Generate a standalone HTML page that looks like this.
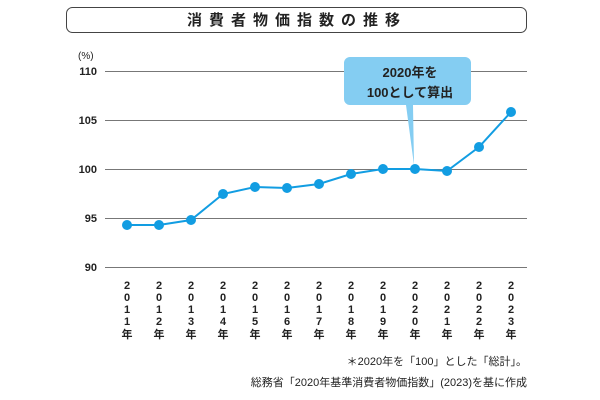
<!DOCTYPE html><html><head><meta charset="utf-8"><style>body{margin:0;background:#fff}svg{display:block}text{font-family:"Liberation Sans","Noto Sans CJK JP",sans-serif;fill:#222}</style></head><body>
<svg width="600" height="400" viewBox="0 0 600 400">
<rect x="66.5" y="7.5" width="460" height="25" rx="6" fill="#fff" stroke="#444" stroke-width="1"/>
<text x="297" y="25" text-anchor="middle" font-size="15" font-weight="bold" letter-spacing="7">消費者物価指数の推移</text>
<text x="78" y="59" font-size="10">(%)</text>
<g stroke="#777" stroke-width="1">
<line x1="105" y1="71.5" x2="527" y2="71.5"/><line x1="105" y1="120.5" x2="527" y2="120.5"/><line x1="105" y1="169.5" x2="527" y2="169.5"/><line x1="105" y1="218.5" x2="527" y2="218.5"/><line x1="105" y1="267.5" x2="527" y2="267.5"/></g>
<g font-size="11" font-weight="bold" text-anchor="end"><text x="97" y="75">110</text><text x="97" y="124">105</text><text x="97" y="173">100</text><text x="97" y="222">95</text><text x="97" y="271">90</text></g>
<path d="M350 57 h115 a6 6 0 0 1 6 6 v36 a6 6 0 0 1 -6 6 h-52 l1 60 l-8 -60 h-56 a6 6 0 0 1 -6 -6 v-36 a6 6 0 0 1 6 -6z" fill="#84cdf2"/>
<text x="410" y="77" text-anchor="middle" font-size="13" font-weight="bold">2020年を</text>
<text x="410" y="97" text-anchor="middle" font-size="13" font-weight="bold">100として算出</text>
<polyline fill="none" stroke="#129de2" stroke-width="2" points="127,225 159,225 191,220 223,194 255,187 287,188 319,184 351,174 383,169 415,169 447,171 479,147 511,112"/>
<g fill="#129de2"><circle cx="127" cy="225" r="5"/><circle cx="159" cy="225" r="5"/><circle cx="191" cy="220" r="5"/><circle cx="223" cy="194" r="5"/><circle cx="255" cy="187" r="5"/><circle cx="287" cy="188" r="5"/><circle cx="319" cy="184" r="5"/><circle cx="351" cy="174" r="5"/><circle cx="383" cy="169" r="5"/><circle cx="415" cy="169" r="5"/><circle cx="447" cy="171" r="5"/><circle cx="479" cy="147" r="5"/><circle cx="511" cy="112" r="5"/></g>
<g font-size="11" font-weight="bold" text-anchor="middle" id="yrs"></g>
<g font-size="11" text-anchor="end"><text x="527" y="365">＊2020年を「100」とした「総計」。</text><text x="527" y="386">総務省「2020年基準消費者物価指数」(2023)を基に作成</text></g>
<g font-size="11" font-weight="bold" text-anchor="middle">
<text x="127" y="289">2</text><text x="127" y="301">0</text><text x="127" y="313">1</text><text x="127" y="325">1</text><text x="127" y="338">年</text>
<text x="159" y="289">2</text><text x="159" y="301">0</text><text x="159" y="313">1</text><text x="159" y="325">2</text><text x="159" y="338">年</text>
<text x="191" y="289">2</text><text x="191" y="301">0</text><text x="191" y="313">1</text><text x="191" y="325">3</text><text x="191" y="338">年</text>
<text x="223" y="289">2</text><text x="223" y="301">0</text><text x="223" y="313">1</text><text x="223" y="325">4</text><text x="223" y="338">年</text>
<text x="255" y="289">2</text><text x="255" y="301">0</text><text x="255" y="313">1</text><text x="255" y="325">5</text><text x="255" y="338">年</text>
<text x="287" y="289">2</text><text x="287" y="301">0</text><text x="287" y="313">1</text><text x="287" y="325">6</text><text x="287" y="338">年</text>
<text x="319" y="289">2</text><text x="319" y="301">0</text><text x="319" y="313">1</text><text x="319" y="325">7</text><text x="319" y="338">年</text>
<text x="351" y="289">2</text><text x="351" y="301">0</text><text x="351" y="313">1</text><text x="351" y="325">8</text><text x="351" y="338">年</text>
<text x="383" y="289">2</text><text x="383" y="301">0</text><text x="383" y="313">1</text><text x="383" y="325">9</text><text x="383" y="338">年</text>
<text x="415" y="289">2</text><text x="415" y="301">0</text><text x="415" y="313">2</text><text x="415" y="325">0</text><text x="415" y="338">年</text>
<text x="447" y="289">2</text><text x="447" y="301">0</text><text x="447" y="313">2</text><text x="447" y="325">1</text><text x="447" y="338">年</text>
<text x="479" y="289">2</text><text x="479" y="301">0</text><text x="479" y="313">2</text><text x="479" y="325">2</text><text x="479" y="338">年</text>
<text x="511" y="289">2</text><text x="511" y="301">0</text><text x="511" y="313">2</text><text x="511" y="325">3</text><text x="511" y="338">年</text>
</g>
</svg></body></html>
